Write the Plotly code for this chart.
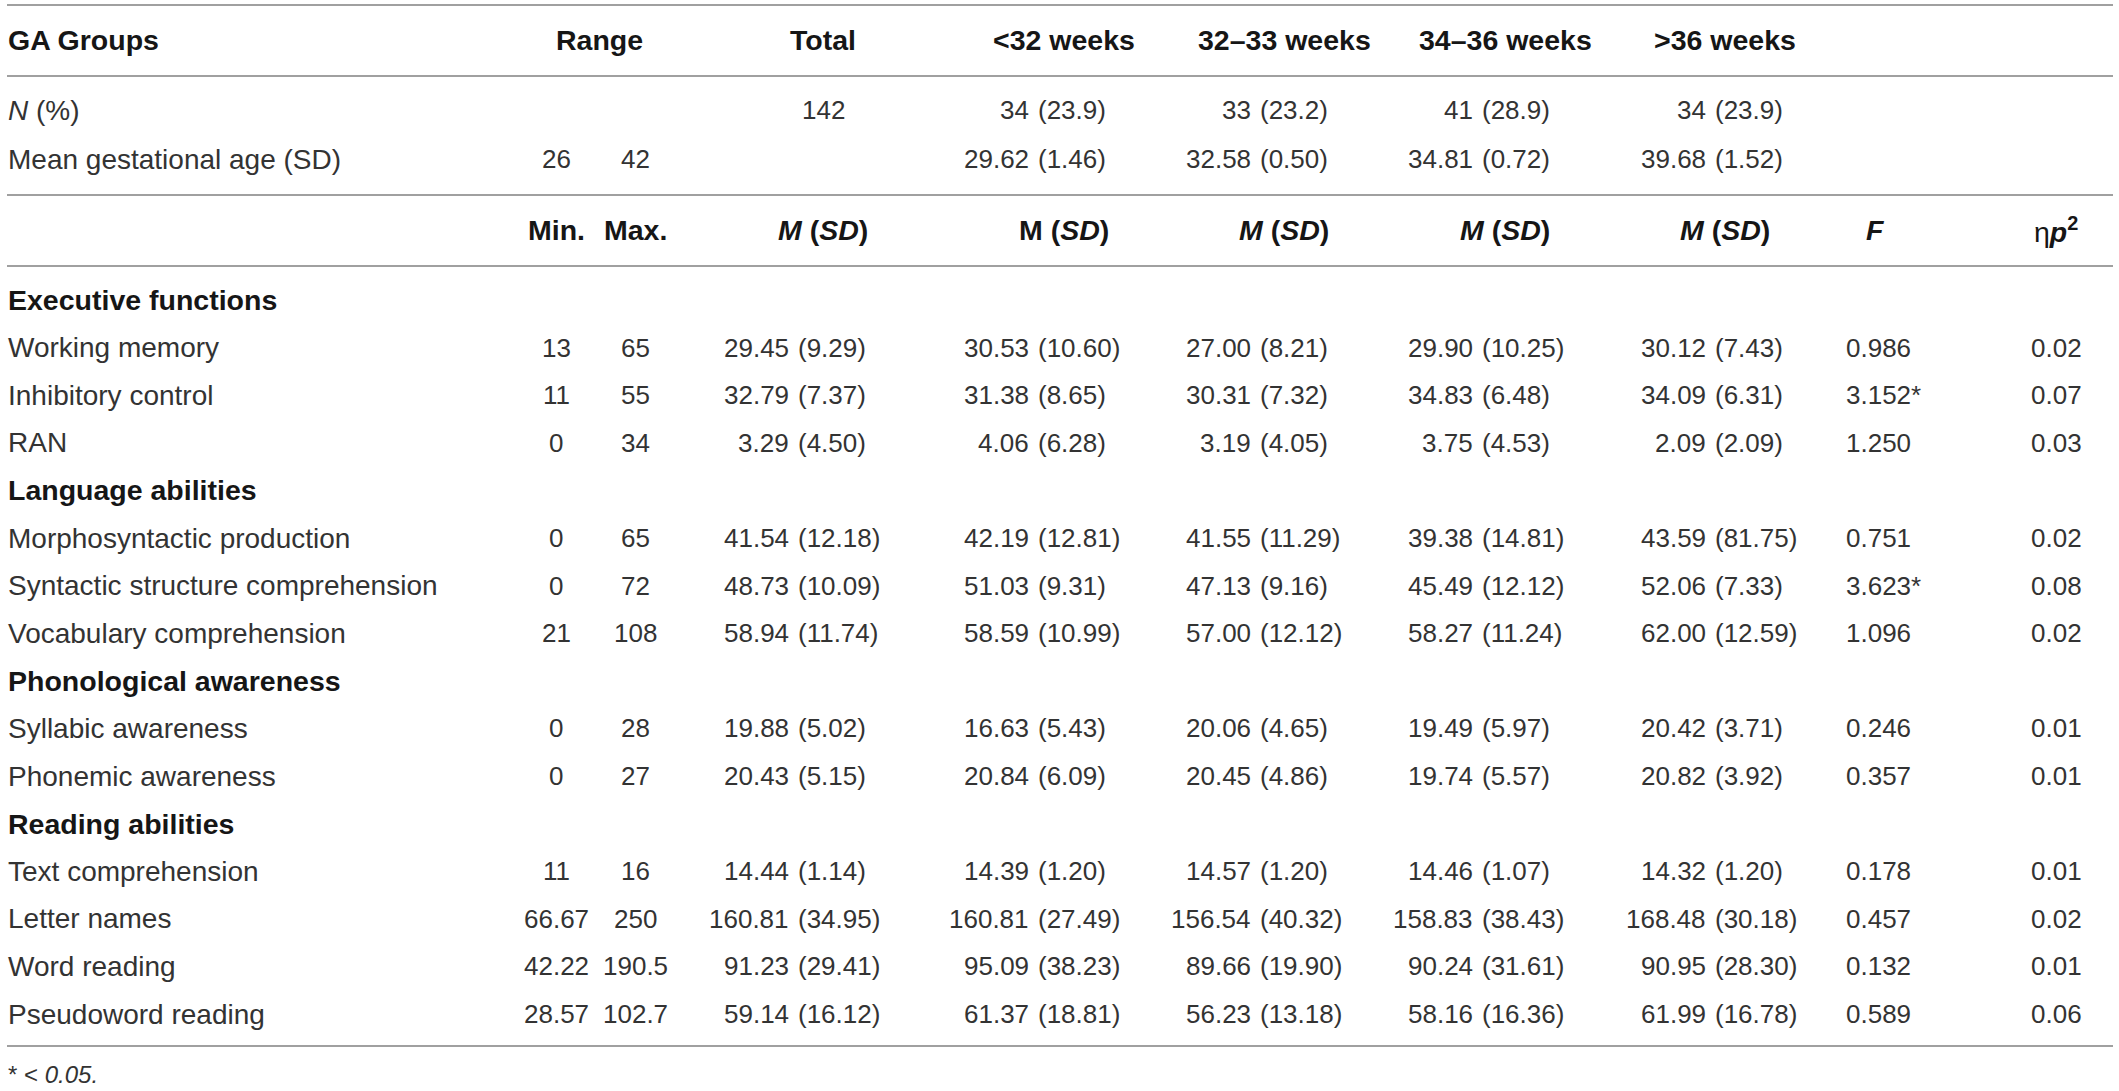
import plotly.graph_objects as go

# column headers / groups
groups = ["&lt;32 weeks", "32–33 weeks", "34–36 weeks", "&gt;36 weeks"]
n_total = 142
n_group = [34, 33, 41, 34]
n_pct = [23.9, 23.2, 28.9, 23.9]
ga_min, ga_max = 26, 42
ga_mean = [29.62, 32.58, 34.81, 39.68]
ga_sd = [1.46, 0.50, 0.72, 1.52]

# measures, grouped by section
sections = ["Executive functions", "Language abilities", "Phonological awareness", "Reading abilities"]
measures = [
    ["Working memory", "Inhibitory control", "RAN"],
    ["Morphosyntactic production", "Syntactic structure comprehension", "Vocabulary comprehension"],
    ["Syllabic awareness", "Phonemic awareness"],
    ["Text comprehension", "Letter names", "Word reading", "Pseudoword reading"],
]
range_min = [13, 11, 0, 0, 0, 21, 0, 0, 11, 66.67, 42.22, 28.57]
range_max = [65, 55, 34, 65, 72, 108, 28, 27, 16, 250, 190.5, 102.7]
total_m = [29.45, 32.79, 3.29, 41.54, 48.73, 58.94, 19.88, 20.43, 14.44, 160.81, 91.23, 59.14]
total_sd = [9.29, 7.37, 4.50, 12.18, 10.09, 11.74, 5.02, 5.15, 1.14, 34.95, 29.41, 16.12]
lt32_m = [30.53, 31.38, 4.06, 42.19, 51.03, 58.59, 16.63, 20.84, 14.39, 160.81, 95.09, 61.37]
lt32_sd = [10.60, 8.65, 6.28, 12.81, 9.31, 10.99, 5.43, 6.09, 1.20, 27.49, 38.23, 18.81]
w32_33_m = [27.00, 30.31, 3.19, 41.55, 47.13, 57.00, 20.06, 20.45, 14.57, 156.54, 89.66, 56.23]
w32_33_sd = [8.21, 7.32, 4.05, 11.29, 9.16, 12.12, 4.65, 4.86, 1.20, 40.32, 19.90, 13.18]
w34_36_m = [29.90, 34.83, 3.75, 39.38, 45.49, 58.27, 19.49, 19.74, 14.46, 158.83, 90.24, 58.16]
w34_36_sd = [10.25, 6.48, 4.53, 14.81, 12.12, 11.24, 5.97, 5.57, 1.07, 38.43, 31.61, 16.36]
gt36_m = [30.12, 34.09, 2.09, 43.59, 52.06, 62.00, 20.42, 20.82, 14.32, 168.48, 90.95, 61.99]
gt36_sd = [7.43, 6.31, 2.09, 81.75, 7.33, 12.59, 3.71, 3.92, 1.20, 30.18, 28.30, 16.78]
f_values = [0.986, 3.152, 1.250, 0.751, 3.623, 1.096, 0.246, 0.357, 0.178, 0.457, 0.132, 0.589]
significant = [False, True, False, False, True, False, False, False, False, False, False, False]
eta_p2 = [0.02, 0.07, 0.03, 0.02, 0.08, 0.02, 0.01, 0.01, 0.01, 0.02, 0.01, 0.06]

W, H = 2119, 1091
FONT = "Liberation Sans, Arial, Helvetica, sans-serif"
TXT = "#333333"
HEAD = "#161616"
FS_LABEL = 28      # row labels
FS_NUM = 26        # numbers
FS_BOLD = 28.5     # bold headings

# column positions (pixels)
label_x = 7
min_x, max_x, range_x = 556, 635, 599
total_x, total_end = 823, 790
group_x = [1064, 1284, 1505, 1725]
group_end = [1030, 1252, 1474, 1707]
f_head_x, f_val_x = 1875, 1845
eta_x = 2056

fig = go.Figure()
annots = []


def cell(x, y, text, anchor="center", size=FS_NUM, color=TXT):
    annots.append(dict(x=x, y=y, xref="x", yref="y", text=text, showarrow=False,
                       xanchor=anchor, yanchor="middle", borderpad=0,
                       font=dict(family=FONT, size=size, color=color)))


def mean_sd(end_x, y, m, sd):
    # decimal style alignment: mean ends at anchor, sd follows
    cell(end_x, y, m, "right")
    cell(end_x + 7, y, "(" + sd + ")", "left")


# header row
y_head, y_n, y_ga, y_sub = 40, 110, 159, 230
cell(label_x, y_head, "<b>GA Groups</b>", "left", FS_BOLD, HEAD)
cell(range_x, y_head, "<b>Range</b>", size=FS_BOLD, color=HEAD)
cell(total_x, y_head, "<b>Total</b>", size=FS_BOLD, color=HEAD)
for gx, g in zip(group_x, groups):
    cell(gx, y_head, "<b>" + g + "</b>", size=FS_BOLD, color=HEAD)

# sample rows
cell(label_x, y_n, "<i>N</i> (%)", "left", FS_LABEL)
cell(total_x, y_n, str(n_total))
for ex, n, p in zip(group_end, n_group, n_pct):
    mean_sd(ex, y_n, str(n), f"{p:.1f}")

cell(label_x, y_ga, "Mean gestational age (SD)", "left", FS_LABEL)
cell(min_x, y_ga, str(ga_min))
cell(max_x, y_ga, str(ga_max))
for ex, m, s in zip(group_end, ga_mean, ga_sd):
    mean_sd(ex, y_ga, f"{m:.2f}", f"{s:.2f}")

# sub header
cell(min_x, y_sub, "<b>Min.</b>", size=FS_BOLD, color=HEAD)
cell(max_x, y_sub, "<b>Max.</b>", size=FS_BOLD, color=HEAD)
cell(total_x, y_sub, "<b><i>M</i> (<i>SD</i>)</b>", size=FS_BOLD, color=HEAD)
cell(group_x[0], y_sub, "<b>M (<i>SD</i>)</b>", size=FS_BOLD, color=HEAD)
for gx in group_x[1:]:
    cell(gx, y_sub, "<b><i>M</i> (<i>SD</i>)</b>", size=FS_BOLD, color=HEAD)
cell(f_head_x, y_sub, "<b><i>F</i></b>", size=FS_BOLD, color=HEAD)
cell(eta_x, y_sub, "η<b><i>p</i><sup>2</sup></b>", size=FS_BOLD, color=HEAD)

# body
row_y0, row_step = 300, 47.6
cols = [(total_end, total_m, total_sd), (group_end[0], lt32_m, lt32_sd),
        (group_end[1], w32_33_m, w32_33_sd), (group_end[2], w34_36_m, w34_36_sd),
        (group_end[3], gt36_m, gt36_sd)]
r = 0
i = 0
for sec, items in zip(sections, measures):
    y = row_y0 + r * row_step
    cell(label_x, y, "<b>" + sec + "</b>", "left", FS_BOLD, HEAD)
    r += 1
    for name in items:
        y = row_y0 + r * row_step
        cell(label_x, y, name, "left", FS_LABEL)
        cell(min_x, y, f"{range_min[i]:g}")
        cell(max_x, y, f"{range_max[i]:g}")
        for ex, ms, ss in cols:
            mean_sd(ex, y, f"{ms[i]:.2f}", f"{ss[i]:.2f}")
        cell(f_val_x, y, f"{f_values[i]:.3f}" + ("*" if significant[i] else ""), "left")
        cell(eta_x, y, f"{eta_p2[i]:.2f}")
        r += 1
        i += 1

bottom_y = 1046
cell(label_x, 1074, "* &lt; <i>0.05.</i>", "left", 24)

# horizontal rules
for ly in [5, 76, 195, 266, bottom_y]:
    fig.add_shape(type="line", xref="x", yref="y", x0=7, x1=2113, y0=ly, y1=ly,
                  line=dict(color="#a0a0a0", width=2))

fig.add_trace(go.Scatter(x=[0, W], y=[0, H], mode="markers", marker=dict(opacity=0),
                         hoverinfo="skip", showlegend=False))

fig.update_layout(
    width=W, height=H,
    margin=dict(l=0, r=0, t=0, b=0),
    paper_bgcolor="white", plot_bgcolor="white",
    annotations=annots,
    xaxis=dict(range=[0, W], visible=False, fixedrange=True),
    yaxis=dict(range=[H, 0], visible=False, fixedrange=True),
    showlegend=False,
)

fig.write_html("out.html", config={"displayModeBar": False},
               post_script="document.body.style.margin='0';document.body.style.overflow='hidden';")
